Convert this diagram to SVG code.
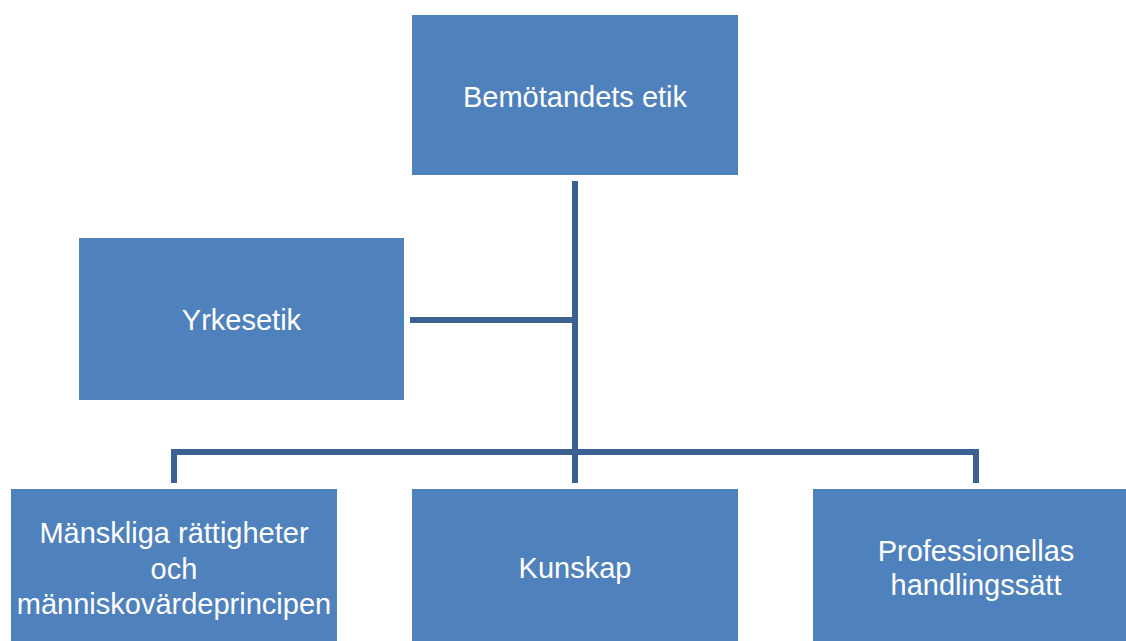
<svg xmlns="http://www.w3.org/2000/svg" width="1126" height="641" viewBox="0 0 1126 641">
<style>
.box{fill:#4F81BD}
.lbl{font-family:"Liberation Sans",Arial,sans-serif;font-size:29px;fill:#FFFFFF;text-anchor:middle}
.con{fill:none;stroke:#3B6192;stroke-width:6;stroke-linecap:butt;stroke-linejoin:miter}
</style>
<rect width="1126" height="641" fill="#FFFFFF"/>
<g id="connectors">
<path class="con" d="M575,181 V483"/>
<path class="con" d="M410,320 H575"/>
<path class="con" d="M174,483 V452 H976 V483"/>
</g>
<g id="node-bemotandets">
<rect class="box" x="412" y="15" width="326" height="160"/>
<text class="lbl" x="575" y="107">Bemötandets etik</text>
</g>
<g id="node-yrkesetik">
<rect class="box" x="79" y="238" width="325" height="162"/>
<text class="lbl" x="241.5" y="330">Yrkesetik</text>
</g>
<g id="node-manskliga">
<rect class="box" x="11" y="489" width="326" height="152"/>
<text class="lbl" x="174" y="543">Mänskliga rättigheter</text>
<text class="lbl" x="174" y="579">och</text>
<text class="lbl" x="174" y="614">människovärdeprincipen</text>
</g>
<g id="node-kunskap">
<rect class="box" x="412" y="489" width="326" height="152"/>
<text class="lbl" x="575" y="578">Kunskap</text>
</g>
<g id="node-professionellas">
<rect class="box" x="813" y="489" width="326" height="152"/>
<text class="lbl" x="976" y="561">Professionellas</text>
<text class="lbl" x="976" y="595">handlingssätt</text>
</g>
</svg>
